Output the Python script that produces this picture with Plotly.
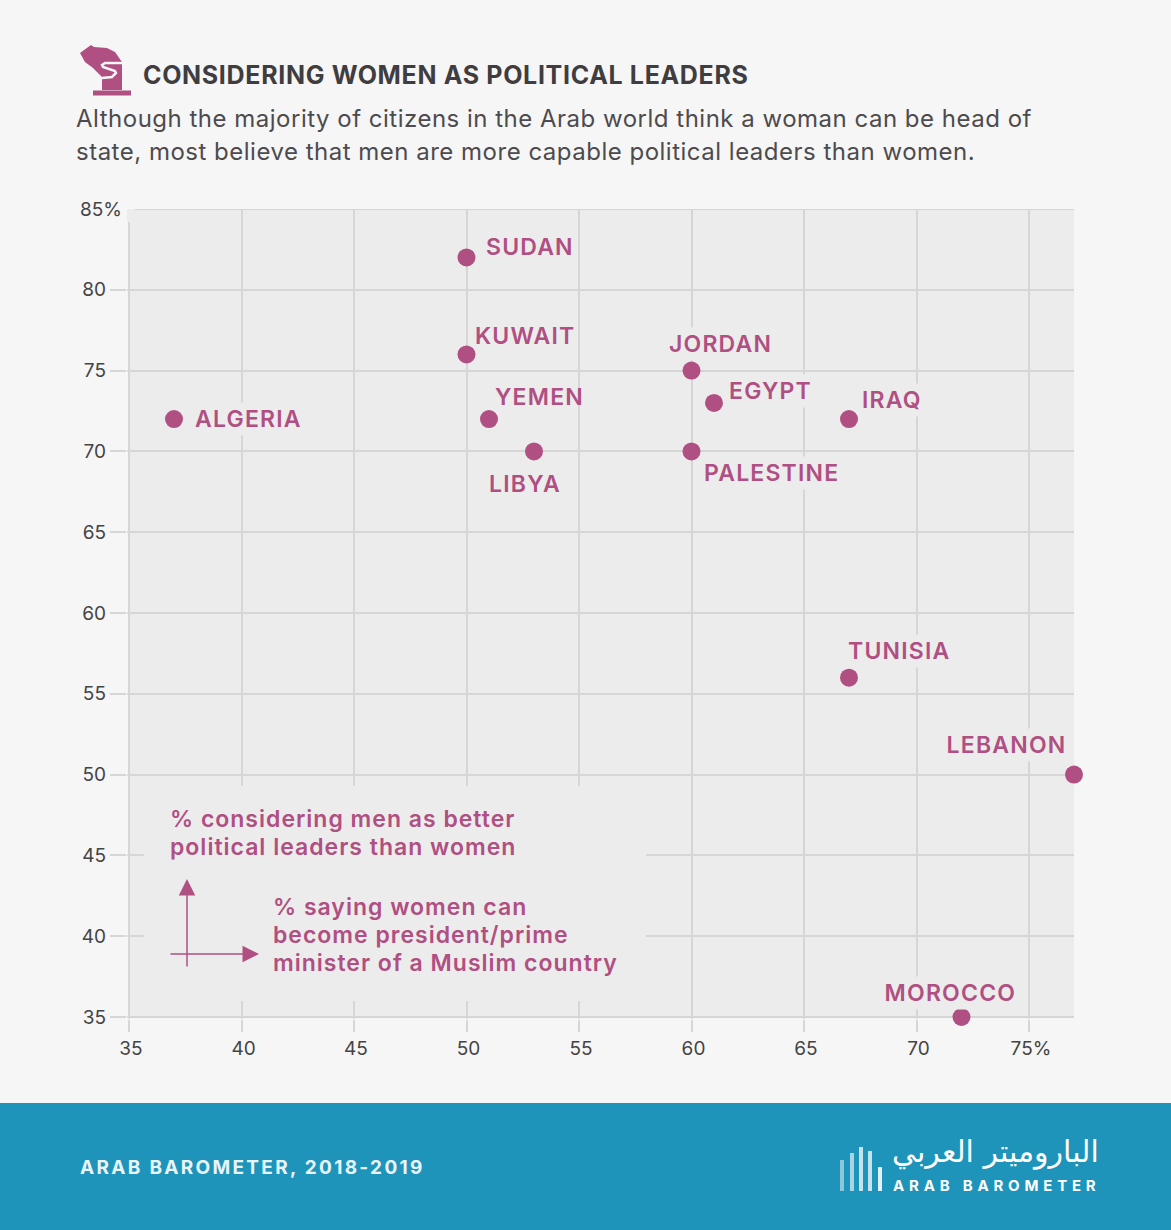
import json
import plotly.graph_objects as go

# chart data
COUNTRIES = ["SUDAN", "KUWAIT", "JORDAN", "EGYPT", "IRAQ", "ALGERIA", "YEMEN", "LIBYA",
             "PALESTINE", "TUNISIA", "LEBANON", "MOROCCO"]
WOMEN_CAN_LEAD = [50, 50, 60, 61, 67, 37, 51, 53, 60, 67, 77, 72]
MEN_BETTER = [82, 76, 75, 73, 72, 72, 72, 70, 70, 56, 50, 35]

X_TICKS = [35, 40, 45, 50, 55, 60, 65, 70, 75]
X_TICK_TEXT = ["35", "40", "45", "50", "55", "60", "65", "70", "75%"]
Y_TICKS = [35, 40, 45, 50, 55, 60, 65, 70, 75, 80, 85]
Y_TICK_TEXT = [f"{v}\u00a0\u00a0\u00a0" for v in Y_TICKS[:-1]] + ["85%"]

TITLE = "CONSIDERING WOMEN AS POLITICAL LEADERS"
SUBTITLE = ["Although the majority of citizens in the Arab world think a woman can be head of",
            "state, most believe that men are more capable political leaders than women."]
Y_NOTE = ["% considering men as better", "political leaders than women"]
X_NOTE = ["% saying women can", "become president/prime", "minister of a Muslim country"]
SOURCE = "ARAB BAROMETER, 2018-2019"
LOGO_AR = "الباروميتر العربي"
LOGO_EN = "ARAB BAROMETER"

# label placement around each point: anchor, x shift, y shift (px)
LABEL_OFFSETS = [("left", 16, 10), ("left", 5, 18), ("left", -26, 27), ("left", 12, 12),
                 ("left", 10, 19), ("left", 18, 0), ("left", 3, 22), ("left", -48, -33),
                 ("left", 9, -22), ("left", -4, 27), ("right", -5, 30), ("right", 57, 24)]
# these labels sit on a vertical grid line and blank it out
MASKED_LABELS = ["JORDAN", "EGYPT", "IRAQ", "ALGERIA", "PALESTINE", "TUNISIA", "LEBANON", "MOROCCO"]

W, H = 1171, 1230
# panel edges in px, the plot area runs 2px past left and bottom so plotly keeps the edge grid lines
PANEL_L, PANEL_B = 129, 1017
L, R, T, B = PANEL_L - 2, 1074, 209, PANEL_B + 2
X_PAD = 2 * (77 - 35) / (R - PANEL_L)
Y_PAD = 2 * (85 - 35) / (PANEL_B - T)
FONT = "Inter"
MAGENTA = "#b04f82"
BG = "#f6f6f6"
PANEL = "#ececec"
GRID = "#d6d6d6"
BAND = "#1f94bb"


def px(x):
    return (x - L) / (R - L)


def py(y):
    return (B - y) / (B - T)


def pixel_path(points, close=True):
    cmds = [f"{'M' if i == 0 else 'L'}{px(x):.5f},{py(y):.5f}" for i, (x, y) in enumerate(points)]
    return " ".join(cmds) + (" Z" if close else "")


def box(x0, y0, x1, y1, color, layer="below"):
    return dict(type="rect", xref="paper", yref="paper", x0=px(x0), x1=px(x1), y0=py(y0), y1=py(y1),
                fillcolor=color, line_width=0, layer=layer)


def text(x, y, s, size, color, weight=400, anchor="left", family=FONT):
    # annotations sit about 3px inside their anchor
    x = x - 3 if anchor == "left" else x + 3
    return dict(xref="paper", yref="paper", x=px(x), y=py(y), text=s, showarrow=False,
                xanchor=anchor, yanchor="middle", align=anchor,
                font=dict(family=family, size=size, color=color, weight=weight))


fig = go.Figure()
fig.add_trace(go.Scatter(x=WOMEN_CAN_LEAD, y=MEN_BETTER, mode="markers", cliponaxis=False,
                         marker=dict(size=18, color=MAGENTA), text=COUNTRIES, hoverinfo="text+x+y",
                         showlegend=False))
# empty trace just so the tick label axis gets drawn
fig.add_trace(go.Scatter(x=[], y=[], yaxis="y2", showlegend=False, hoverinfo="skip"))

annotations = []
for name, xv, yv, (anchor, dx, dy) in zip(COUNTRIES, WOMEN_CAN_LEAD, MEN_BETTER, LABEL_OFFSETS):
    bg = PANEL if name in MASKED_LABELS else "rgba(0,0,0,0)"
    annotations.append(dict(x=xv, y=yv, text=name, showarrow=False, xanchor=anchor, yanchor="middle",
                            align=anchor, xshift=dx, yshift=dy, bgcolor=bg, borderpad=2,
                            font=dict(family=FONT, size=23, color=MAGENTA, weight=600)))

annotations.append(text(144, 75, TITLE, 25, "#3f3d3f", weight=700))
for i, line in enumerate(SUBTITLE):
    annotations.append(text(77, 119 + 32 * i, line, 24, "#4d4b4d"))
for i, line in enumerate(Y_NOTE):
    annotations.append(text(171, 819 + 28 * i, line, 23, MAGENTA, weight=600))
for i, line in enumerate(X_NOTE):
    annotations.append(text(274, 907 + 28 * i, line, 23, MAGENTA, weight=600))
annotations.append(text(81, 1167, SOURCE, 19, "#e9f4f8", weight=700))
annotations.append(text(1098, 1152, LOGO_AR, 30, "#ffffff", anchor="right", family="DejaVu Sans"))
annotations.append(text(894, 1185, LOGO_EN, 15, "#ffffff", weight=700))

# note arrows
annotations.append(dict(xref="paper", yref="paper", x=px(187), y=py(879), ax=0, ay=89, text="",
                        showarrow=True, arrowhead=2, arrowsize=2.2, arrowwidth=1.5, arrowcolor=MAGENTA))
annotations.append(dict(xref="paper", yref="paper", x=px(259), y=py(954), ax=-90, ay=0, text="",
                        showarrow=True, arrowhead=2, arrowsize=2.2, arrowwidth=1.5, arrowcolor=MAGENTA))

shapes = [
    box(0, 1103, W, H, BAND),
    box(PANEL_L, T, R, PANEL_B, PANEL),
    # top grid line stops short of the 85% label
    dict(type="line", xref="paper", yref="y", x0=px(135), x1=1, y0=85, y1=85, layer="below",
         line=dict(color=GRID, width=2)),
    # note area hides the grid
    box(144, 786, 646, 1001, PANEL, layer="above"),
    # left axis line starts a little below the top
    box(PANEL_L - 2, T, PANEL_L + 2, 222, PANEL, layer="above"),
    # ballot icon
    dict(type="path", xref="paper", yref="paper", fillcolor=MAGENTA, line_width=0, layer="above",
         path=pixel_path([(80, 53), (91, 45), (94, 47), (107, 48), (115, 52), (122, 62),
                          (122, 90), (102, 90), (102, 77), (93, 68), (85, 62)])),
    dict(type="path", xref="paper", yref="paper", line=dict(color=MAGENTA, width=5), layer="above",
         path=pixel_path([(93, 93), (131, 93)], close=False)),
    dict(type="path", xref="paper", yref="paper", line=dict(color=BG, width=2.5), layer="above",
         path=pixel_path([(122, 63), (105, 63), (102, 65), (103, 67), (115, 71), (116, 73),
                          (112, 77), (102, 78)], close=False)),
]
# logo bars
for x, top, shade in zip([842, 852, 861, 870, 880], [1160, 1153, 1147, 1151, 1167],
                         ["#8cc6da", "#a8d4e3", "#c5e3ed", "#c5e3ed", "#e3f1f6"]):
    shapes.append(box(x - 2, top, x + 2, 1191, shade))

fig.update_layout(
    width=W, height=H, autosize=False,
    margin=dict(l=L, r=W - R, t=T, b=H - B, pad=0),
    paper_bgcolor=BG, plot_bgcolor="rgba(0,0,0,0)",
    showlegend=False,
    font=dict(family=FONT, color="#444444"),
    annotations=annotations, shapes=shapes,
    xaxis=dict(range=[35 - X_PAD, 77], tickvals=X_TICKS, ticktext=X_TICK_TEXT, showgrid=True, gridcolor=GRID,
               gridwidth=2, zeroline=False, showline=False, ticks="outside", ticklen=12, tickwidth=2,
               tickcolor=GRID, ticklabelstandoff=0, ticklabelshift=2,
               tickfont=dict(family=FONT, size=19, color="#444444")),
    # no tick at 85, the label sits there instead
    yaxis=dict(range=[35 - Y_PAD, 85], tickvals=Y_TICKS[:-1], showticklabels=False, showgrid=True,
               gridcolor=GRID, gridwidth=2, zeroline=False, showline=False, ticks="outside", ticklen=16,
               tickwidth=2, tickcolor=GRID),
    yaxis2=dict(range=[35 - Y_PAD, 85], overlaying="y", anchor="free", position=0, side="left",
                tickvals=Y_TICKS, ticktext=Y_TICK_TEXT, showgrid=False, zeroline=False, showline=False,
                ticks="", ticklabelstandoff=5, tickfont=dict(family=FONT, size=19, color="#444444")),
)

# the reference font runs wider than Inter, so open the letters up a bit
spacing = {TITLE: 0.67, SOURCE: 2.3, LOGO_EN: 4.8}
spacing.update({s: 0.5 for s in SUBTITLE})
spacing.update({s: 1.0 for s in Y_NOTE + X_NOTE})
spacing.update({s: 1.2 for s in COUNTRIES})

post_script = """
document.body.style.margin = '0';
document.body.style.overflow = 'hidden';
var spacing = %s;
document.querySelectorAll('.annotation-text').forEach(function (t) {
    var gap = spacing[t.textContent];
    if (gap === undefined) return;
    t.style.letterSpacing = gap + 'px';
    var bg = t.parentNode.querySelector('rect.bg');
    if (bg && COUNTRY_LABELS.indexOf(t.textContent) >= 0) {
        var b = t.getBBox();
        bg.setAttribute('x', b.x - 2);
        bg.setAttribute('width', b.width + 4);
    }
});
""" % json.dumps(spacing, ensure_ascii=False)
post_script = post_script.replace("COUNTRY_LABELS", json.dumps(COUNTRIES))

fig.write_html("out.html", post_script=post_script, config={"displayModeBar": False})
